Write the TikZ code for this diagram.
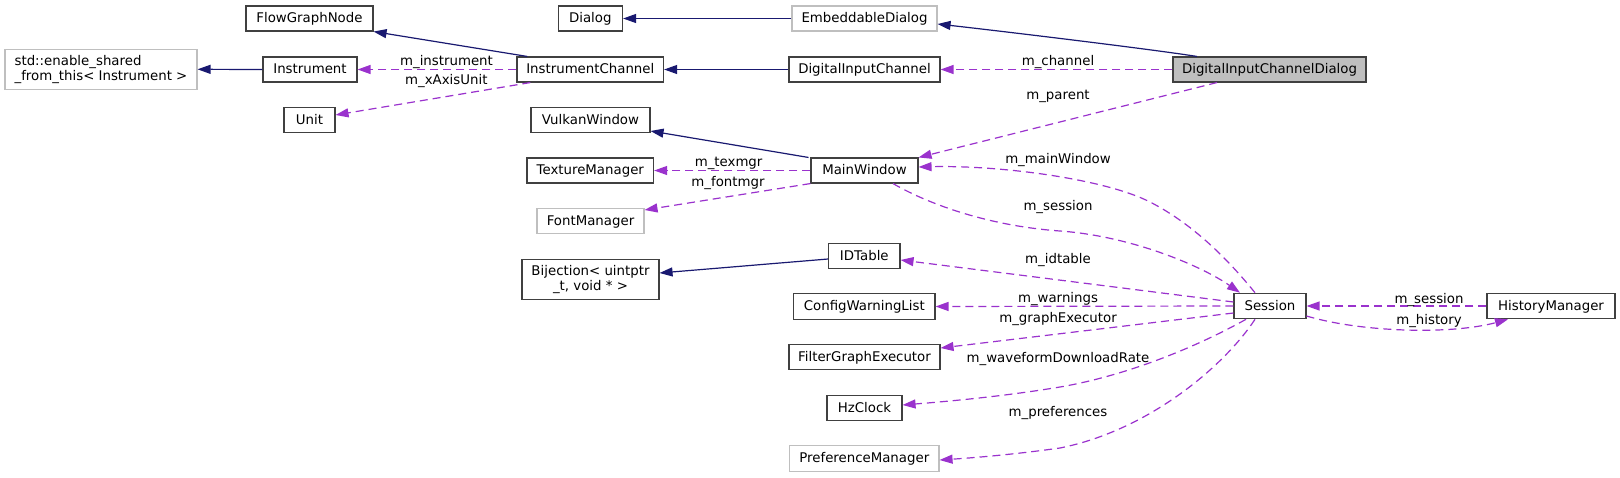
\documentclass[tikz,border=0pt]{standalone}
\usepackage{fontspec}
\setmainfont{DejaVu Sans}
\usetikzlibrary{arrows.meta}
\definecolor{inhcol}{HTML}{191970}
\definecolor{usecol}{HTML}{9A32CD}
\definecolor{bordcol}{HTML}{404040}
\definecolor{gbordcol}{HTML}{BFBFBF}
\definecolor{rootfill}{HTML}{BFBFBF}
\newcommand\dxfont{\fontsize{13.33}{14.7}\selectfont}
\begin{document}
\begin{tikzpicture}[x=1pt,y=-1pt,
  boxbase/.style={draw=bordcol, line width=1.1pt, fill=white, inner sep=0pt, font=\dxfont, text=black},
  cls/.style={boxbase, text height=10.5pt, text depth=2.5pt},
  ext/.style={cls, draw=gbordcol},
  root/.style={cls, fill=rootfill},
  two/.style={boxbase},
  sz/.style 2 args={minimum width=#1pt, minimum height=#2pt},
  lbl/.style={font=\dxfont, inner sep=0pt, anchor=base, text=black},
  inhe/.style={draw=inhcol, line width=1.2pt, -{Triangle[length=13pt,width=9pt]}},
  usee/.style={draw=usecol, line width=1.2pt, dash pattern=on 8pt off 5pt, -{Triangle[length=13pt,width=9pt]}}
]
\useasboundingbox (0,0) rectangle (1620,477);

% nodes
\node[cls, sz={127}{25}] (fgn) at (309.5,18.5) {FlowGraphNode};
\node[two, ext, sz={192}{40}, align=left, text height=, text depth=] (esft) at (101,69.3) {std::enable\_shared\\\_from\_this< Instrument >};
\node[cls, sz={94}{25}] (inst) at (310,69.5) {Instrument};
\node[cls, sz={51}{25.5}] (unit) at (309.5,120) {Unit};
\node[cls, sz={64.5}{25}] (dlg) at (590.3,18.5) {Dialog};
\node[ext, sz={145}{25}] (emb) at (864.5,18.5) {EmbeddableDialog};
\node[cls, sz={146.6}{25}] (ic) at (590.3,69.5) {InstrumentChannel};
\node[cls, sz={151}{25}] (dic) at (864.5,69.5) {DigitalInputChannel};
\node[cls, sz={119}{25.5}] (vw) at (590.5,120) {VulkanWindow};
\node[cls, sz={126.6}{25}] (tm) at (590.3,170.5) {TextureManager};
\node[cls, sz={107}{25}] (mw) at (864.5,170.5) {MainWindow};
\node[ext, sz={107}{25.5}] (fm) at (590.5,221) {FontManager};
\node[cls, sz={71.4}{25.5}] (idt) at (864.3,256) {IDTable};
\node[two, sz={137}{40}, align=center] (bij) at (590.5,279.5) {Bijection< uintptr\\\_t, void * >};
\node[cls, sz={141.4}{25.5}] (cwl) at (864.3,306.5) {ConfigWarningList};
\node[cls, sz={151}{25.5}] (fge) at (864.5,357) {FilterGraphExecutor};
\node[cls, sz={75}{25.5}] (hz) at (864.5,408) {HzClock};
\node[ext, sz={149.4}{25.5}] (pm) at (864.3,458.3) {PreferenceManager};
\node[root, sz={193}{25}] (dicd) at (1269.5,69.5) {DigitalInputChannelDialog};
\node[cls, sz={72}{25.5}] (ses) at (1270,306) {Session};
\node[cls, sz={128}{25.5}] (hm) at (1551,306) {HistoryManager};

% inheritance
\draw[inhe] ([xshift=-63pt]ic.north) -- (fgn.south east);
\draw[inhe] (inst.west) -- (esft.east);
\draw[inhe] (dic.west) -- (ic.east);
\draw[inhe] (emb.west) -- (dlg.east);
\draw[inhe] ([xshift=-72.5pt]dicd.north) .. controls (1150,49) and (1000,31) .. ([yshift=-5.5pt]emb.east);
\draw[inhe] ([xshift=-56pt]mw.north) -- ([yshift=-11pt]vw.east);
\draw[inhe] ([yshift=-3pt]idt.west) -- ([yshift=6.5pt]bij.east);

% usage
\draw[usee] (ic.west) -- (inst.east);
\draw[usee] ([xshift=-60pt]ic.south) -- ([yshift=5pt]unit.east);
\draw[usee] (dicd.west) -- (dic.east);
\draw[usee] ([xshift=-52.5pt]dicd.south) -- (mw.north east);
\draw[usee] (mw.west) -- (tm.east);
\draw[usee] (mw.south west) -- ([yshift=11pt]fm.east);
\draw[usee] ([xshift=-15pt]ses.north) .. controls (1230,262) and (1195,225) .. (1150,202) .. controls (1105,179) and (1000,165) .. ([yshift=3.5pt]mw.east);
\draw[usee] ([xshift=28.5pt]mw.south) .. controls (930,205) and (990,226) .. (1060,231) .. controls (1130,236) and (1200,265) .. ([xshift=-30pt]ses.north);
\draw[usee] ([yshift=4pt]ses.west) -- ([yshift=-4pt]idt.east);
\draw[usee] (ses.west) -- (cwl.east);
\draw[usee] ([yshift=-7pt]ses.west) -- ([yshift=9pt]fge.east);
\draw[usee] ([xshift=-24pt]ses.south) .. controls (1200,345) and (1130,375) .. (1060,387) .. controls (1000,397) and (940,402) .. ([yshift=3pt]hz.east);
\draw[usee] ([xshift=-15pt]ses.south) .. controls (1225,365) and (1150,430) .. (1060,448) .. controls (1010,455) and (970,458) .. ([yshift=-1.7pt]pm.east);
\draw[usee] (hm.west) -- (ses.east);
\draw[usee] ([yshift=-10pt]ses.east) .. controls (1360,332) and (1450,335) .. ([xshift=-43pt]hm.south);

% labels
\node[lbl] (lins) at (446.5,65) {m\_instrument};
\node[lbl] (lxau) at (446.3,84.5) {m\_xAxisUnit};
\node[lbl] (lchn) at (1058,65) {m\_channel};
\node[lbl] (lpar) at (1058,99) {m\_parent};
\node[lbl] (lmw) at (1058,163) {m\_mainWindow};
\node[lbl] (ltex) at (728.6,166) {m\_texmgr};
\node[lbl] (lfnt) at (728,186.5) {m\_fontmgr};
\node[lbl] (lses1) at (1058,210.5) {m\_session};
\node[lbl] (lidt) at (1058,263) {m\_idtable};
\node[lbl] (lwar) at (1058,302.5) {m\_warnings};
\node[lbl] (lgex) at (1058,322.5) {m\_graphExecutor};
\node[lbl] (lwav) at (1058,362.5) {m\_waveformDownloadRate};
\node[lbl] (lpref) at (1058,416) {m\_preferences};
\node[lbl] (lses2) at (1429,303) {m\_session};
\node[lbl] (lhis) at (1429,324) {m\_history};
\end{tikzpicture}
\end{document}
